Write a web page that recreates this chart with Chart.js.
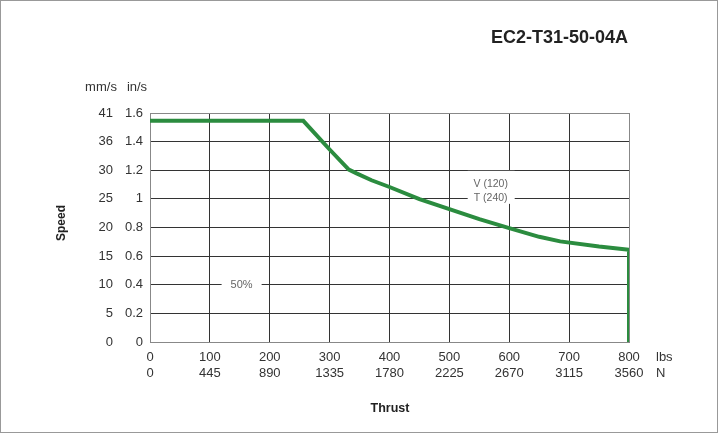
<!DOCTYPE html>
<html><head><meta charset="utf-8">
<script src="https://cdn.jsdelivr.net/npm/chart.js@4"></script>
<style>html,body{margin:0;padding:0;background:#fff}#wrap{width:718px;height:433px;position:relative}</style>
</head><body><div id="wrap"><canvas id="c" width="718" height="433"></canvas></div>
<script>
const thrustLbs = [0, 256, 300, 332, 345, 370, 400, 450, 500, 550, 600, 650, 685, 750, 800, 800];
const speedIn   = [1.545, 1.545, 1.345, 1.205, 1.178, 1.13, 1.083, 0.998, 0.928, 0.858, 0.796, 0.735, 0.703, 0.667, 0.644, 0];
const yTicksIn  = ['0','0.2','0.4','0.6','0.8','1','1.2','1.4','1.6'];
const yTicksMm  = ['0','5','10','15','20','25','30','36','41'];
const xTicksLbs = ['0','100','200','300','400','500','600','700','800'];
const xTicksN   = ['0','445','890','1335','1780','2225','2670','3115','3560'];
const titleText = 'EC2-T31-50-04A';

const FONT = '"Liberation Sans", Arial, sans-serif';
const GREEN = '#2b8c3f';
const gridCol = (n) => (ctx) => (ctx.index === 0 || ctx.index === n) ? '#888' : '#333';

const textPlugin = {
  id: 'texts',
  beforeDatasetsDraw(chart) {
    const c = chart.ctx, sx = chart.scales.x, sy = chart.scales.y;
    c.save();
    c.textAlign = 'center';
    c.textBaseline = 'middle';
    let px = sx.getPixelForValue(153), py = sy.getPixelForValue(0.4);
    c.fillStyle = '#fff';
    c.fillRect(px - 20, py - 7, 40, 14);
    c.fillStyle = '#666';
    c.font = '11px ' + FONT;
    c.fillText('50%', px, py);
    px = sx.getPixelForValue(569);
    const py1 = sy.getPixelForValue(1.105), py2 = sy.getPixelForValue(1.005);
    c.fillStyle = '#fff';
    c.fillRect(px - 23, py1 - 13, 47, 33);
    c.fillStyle = '#666';
    c.font = '10.5px ' + FONT;
    c.fillText('V (120)', px, py1);
    c.fillText('T (240)', px, py2);
    c.restore();
  },
  afterDraw(chart) {
    const c = chart.ctx;
    c.save();
    c.fillStyle = '#222';
    c.textBaseline = 'middle';
    c.font = 'bold 18px ' + FONT;
    c.textAlign = 'right';
    c.fillText(titleText, 628, 38);
    c.font = '13px ' + FONT;
    c.fillStyle = '#333';
    c.textAlign = 'center';
    c.fillText('mm/s', 101, 87);
    c.fillText('in/s', 137, 87);
    c.textAlign = 'left';
    c.fillText('lbs', 656, 357);
    c.fillText('N', 656, 373);
    c.font = 'bold 12.5px ' + FONT;
    c.fillStyle = '#222';
    c.textAlign = 'center';
    c.fillText('Thrust', 390, 409);
    c.font = 'bold 12px ' + FONT;
    c.translate(62, 223);
    c.rotate(-Math.PI / 2);
    c.fillText('Speed', 0, 0);
    c.restore();
    c.save();
    c.strokeStyle = '#999';
    c.lineWidth = 1;
    c.strokeRect(0.5, 0.5, 717, 432);
    c.restore();
  }
};

new Chart(document.getElementById('c'), {
  type: 'line',
  data: {
    datasets: [{
      data: thrustLbs.map((x, i) => ({ x, y: speedIn[i] })),
      borderColor: GREEN,
      borderWidth: 4,
      pointRadius: 0,
      tension: 0,
      fill: false,
      borderJoinStyle: 'miter'
    }]
  },
  options: {
    responsive: false,
    animation: false,
    devicePixelRatio: 1,
    layout: { padding: { left: 0, top: 113, right: 89, bottom: 45 } },
    plugins: { legend: { display: false }, tooltip: { enabled: false } },
    scales: {
      x: {
        type: 'linear', position: 'bottom', min: 0, max: 800,
        ticks: { stepSize: 100, callback: (v, i) => [xTicksLbs[i], xTicksN[i]], font: { family: FONT, size: 13 }, color: '#333', padding: 8, maxRotation: 0, autoSkip: false },
        grid: { color: gridCol(8), drawTicks: false, lineWidth: 1 },
        border: { color: '#888' },
        afterFit: (s) => { s.height = 46; }
      },
      y: {
        type: 'linear', position: 'left', min: 0, max: 1.6,
        ticks: { stepSize: 0.2, callback: (v, i) => yTicksIn[i], font: { family: FONT, size: 13 }, color: '#333', padding: 7 },
        grid: { color: gridCol(8), drawTicks: false, lineWidth: 1 },
        border: { color: '#888' },
        afterFit: (s) => { s.width = 30; }
      },
      yMm: {
        type: 'linear', position: 'left', min: 0, max: 1.6,
        ticks: { stepSize: 0.2, callback: (v, i) => yTicksMm[i], font: { family: FONT, size: 13 }, color: '#333', padding: 7 },
        grid: { display: false, drawTicks: false },
        border: { display: false },
        afterFit: (s) => { s.width = 120; }
      }
    }
  },
  plugins: [textPlugin]
});
</script>
</body></html>
